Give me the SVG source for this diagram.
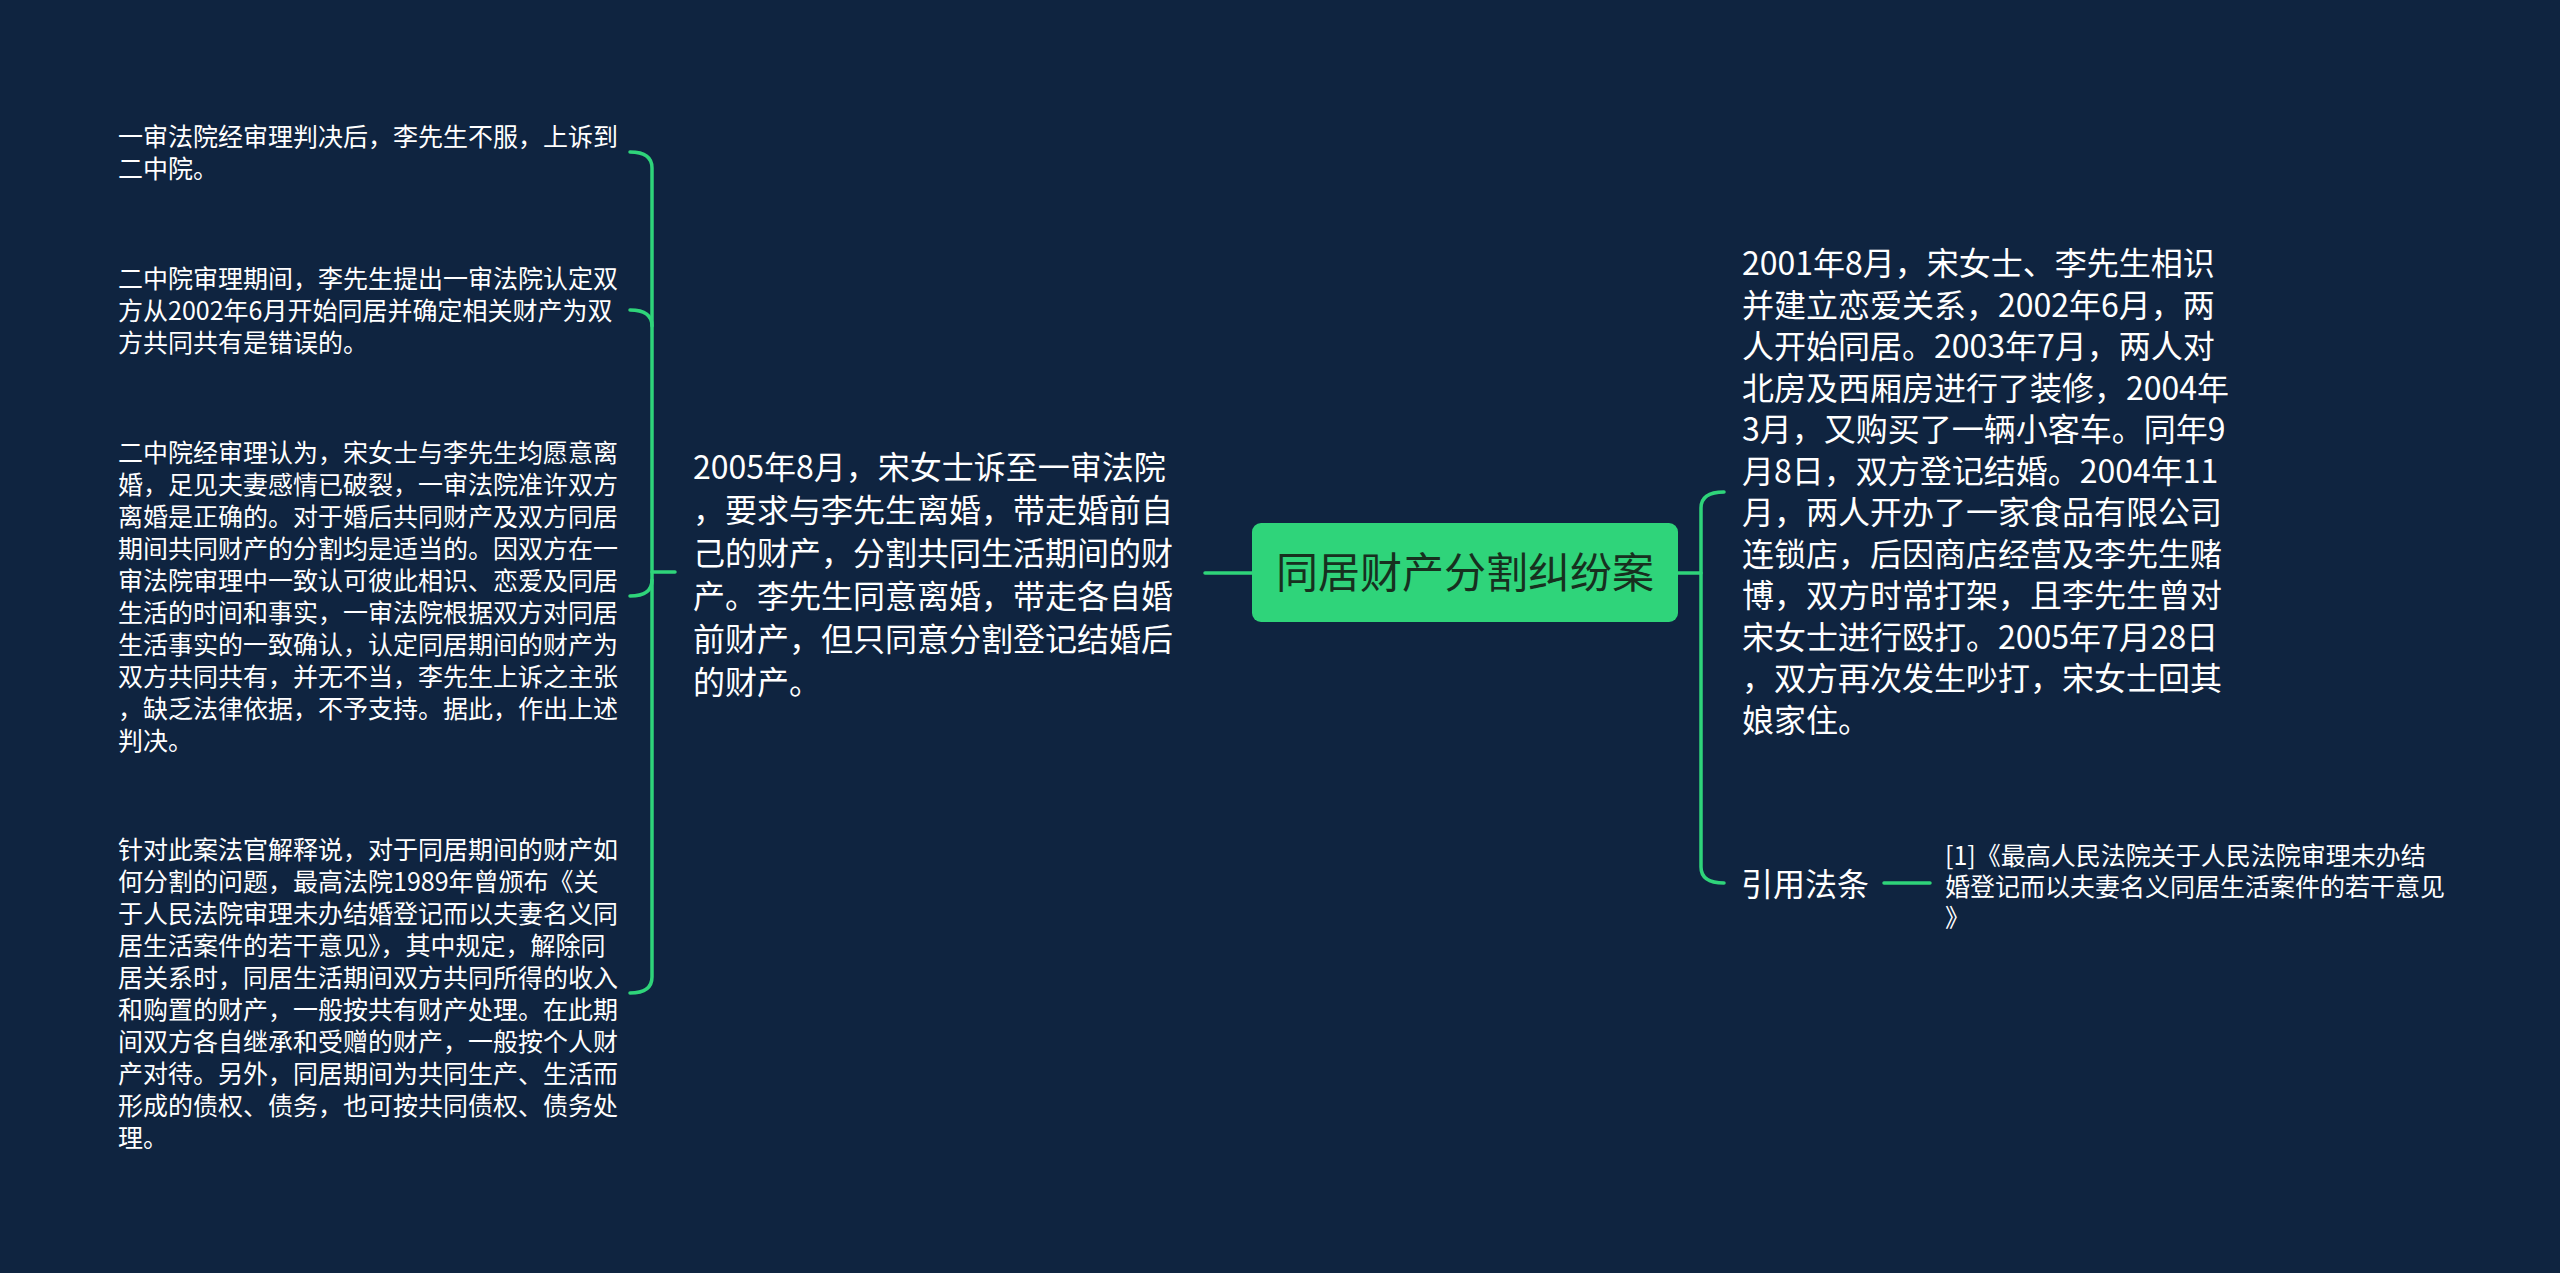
<svg xmlns="http://www.w3.org/2000/svg" width="2560" height="1273" viewBox="0 0 2560 1273">
  <style>
    .bg { fill: #0f2440; }
    .ln { fill: none; stroke: #2fd47a; stroke-width: 3.5; stroke-linecap: round; }
    text { font-family: "Noto Sans CJK SC", "Noto Sans", sans-serif; fill: #ffffff; }
    .root { font-size: 42px; fill: #17301f; }
    .main { font-size: 32px; }
    .item { font-size: 25px; }
  </style>
  <rect class="bg" x="0" y="0" width="2560" height="1273"/>

  <g id="connectors">
    <path class="ln" d="M1205,573 L1252,573"/>
    <path class="ln" d="M1678,573 L1701,573"/>
    <path class="ln" d="M652,572 L675,572"/>
    <path class="ln" d="M630,152 Q652,152 652,168 L652,977 Q652,993 630,993"/>
    <path class="ln" d="M630,310 Q652,310 652,326"/>
    <path class="ln" d="M630,596 Q652,596 652,580"/>
    <path class="ln" d="M1724,492 Q1701,492 1701,508 L1701,867 Q1701,883 1724,883"/>
    <path class="ln" d="M1884,883 L1930,883"/>
  </g>

  <g id="root">
    <rect x="1252" y="523" width="426" height="99" rx="9" fill="#2fd47a"/>
    <text class="root" x="1465" y="588" text-anchor="middle">同居财产分割纠纷案</text>
  </g>

  <g id="left-main">
    <text class="main" x="693">
      <tspan x="693" y="479">2005年8月，宋女士诉至一审法院</tspan>
      <tspan x="693" y="522">，要求与李先生离婚，带走婚前自</tspan>
      <tspan x="693" y="565">己的财产，分割共同生活期间的财</tspan>
      <tspan x="693" y="608">产。李先生同意离婚，带走各自婚</tspan>
      <tspan x="693" y="651">前财产，但只同意分割登记结婚后</tspan>
      <tspan x="693" y="694">的财产。</tspan>
    </text>
  </g>

  <g id="item1">
    <text class="item">
      <tspan x="118" y="145.5">一审法院经审理判决后，李先生不服，上诉到</tspan>
      <tspan x="118" y="177.5">二中院。</tspan>
    </text>
  </g>

  <g id="item2">
    <text class="item">
      <tspan x="118" y="287.5">二中院审理期间，李先生提出一审法院认定双</tspan>
      <tspan x="118" y="319.5">方从2002年6月开始同居并确定相关财产为双</tspan>
      <tspan x="118" y="351.5">方共同共有是错误的。</tspan>
    </text>
  </g>

  <g id="item3">
    <text class="item">
      <tspan x="118" y="461.5">二中院经审理认为，宋女士与李先生均愿意离</tspan>
      <tspan x="118" y="493.5">婚，足见夫妻感情已破裂，一审法院准许双方</tspan>
      <tspan x="118" y="525.5">离婚是正确的。对于婚后共同财产及双方同居</tspan>
      <tspan x="118" y="557.5">期间共同财产的分割均是适当的。因双方在一</tspan>
      <tspan x="118" y="589.5">审法院审理中一致认可彼此相识、恋爱及同居</tspan>
      <tspan x="118" y="621.5">生活的时间和事实，一审法院根据双方对同居</tspan>
      <tspan x="118" y="653.5">生活事实的一致确认，认定同居期间的财产为</tspan>
      <tspan x="118" y="685.5">双方共同共有，并无不当，李先生上诉之主张</tspan>
      <tspan x="118" y="717.5">，缺乏法律依据，不予支持。据此，作出上述</tspan>
      <tspan x="118" y="749.5">判决。</tspan>
    </text>
  </g>

  <g id="item4">
    <text class="item">
      <tspan x="118" y="858.5">针对此案法官解释说，对于同居期间的财产如</tspan>
      <tspan x="118" y="890.5">何分割的问题，最高法院1989年曾颁布《关</tspan>
      <tspan x="118" y="922.5">于人民法院审理未办结婚登记而以夫妻名义同</tspan>
      <tspan x="118" y="954.5">居生活案件的若干意见》，其中规定，解除同</tspan>
      <tspan x="118" y="986.5">居关系时，同居生活期间双方共同所得的收入</tspan>
      <tspan x="118" y="1018.5">和购置的财产，一般按共有财产处理。在此期</tspan>
      <tspan x="118" y="1050.5">间双方各自继承和受赠的财产，一般按个人财</tspan>
      <tspan x="118" y="1082.5">产对待。另外，同居期间为共同生产、生活而</tspan>
      <tspan x="118" y="1114.5">形成的债权、债务，也可按共同债权、债务处</tspan>
      <tspan x="118" y="1146.5">理。</tspan>
    </text>
  </g>

  <g id="right-main">
    <text class="main">
      <tspan x="1742" y="275">2001年8月，宋女士、李先生相识</tspan>
      <tspan x="1742" y="316.5">并建立恋爱关系，2002年6月，两</tspan>
      <tspan x="1742" y="358">人开始同居。2003年7月，两人对</tspan>
      <tspan x="1742" y="399.5">北房及西厢房进行了装修，2004年</tspan>
      <tspan x="1742" y="441">3月，又购买了一辆小客车。同年9</tspan>
      <tspan x="1742" y="482.5">月8日，双方登记结婚。2004年11</tspan>
      <tspan x="1742" y="524">月，两人开办了一家食品有限公司</tspan>
      <tspan x="1742" y="565.5">连锁店，后因商店经营及李先生赌</tspan>
      <tspan x="1742" y="607">博，双方时常打架，且李先生曾对</tspan>
      <tspan x="1742" y="648.5">宋女士进行殴打。2005年7月28日</tspan>
      <tspan x="1742" y="690">，双方再次发生吵打，宋女士回其</tspan>
      <tspan x="1742" y="731.5">娘家住。</tspan>
    </text>
  </g>

  <g id="cite-label">
    <text class="main" x="1741" y="896">引用法条</text>
  </g>

  <g id="cite-item">
    <text class="item">
      <tspan x="1945" y="864.5">[1]《最高人民法院关于人民法院审理未办结</tspan>
      <tspan x="1945" y="895.5">婚登记而以夫妻名义同居生活案件的若干意见</tspan>
      <tspan x="1945" y="926.5">》</tspan>
    </text>
  </g>
</svg>
